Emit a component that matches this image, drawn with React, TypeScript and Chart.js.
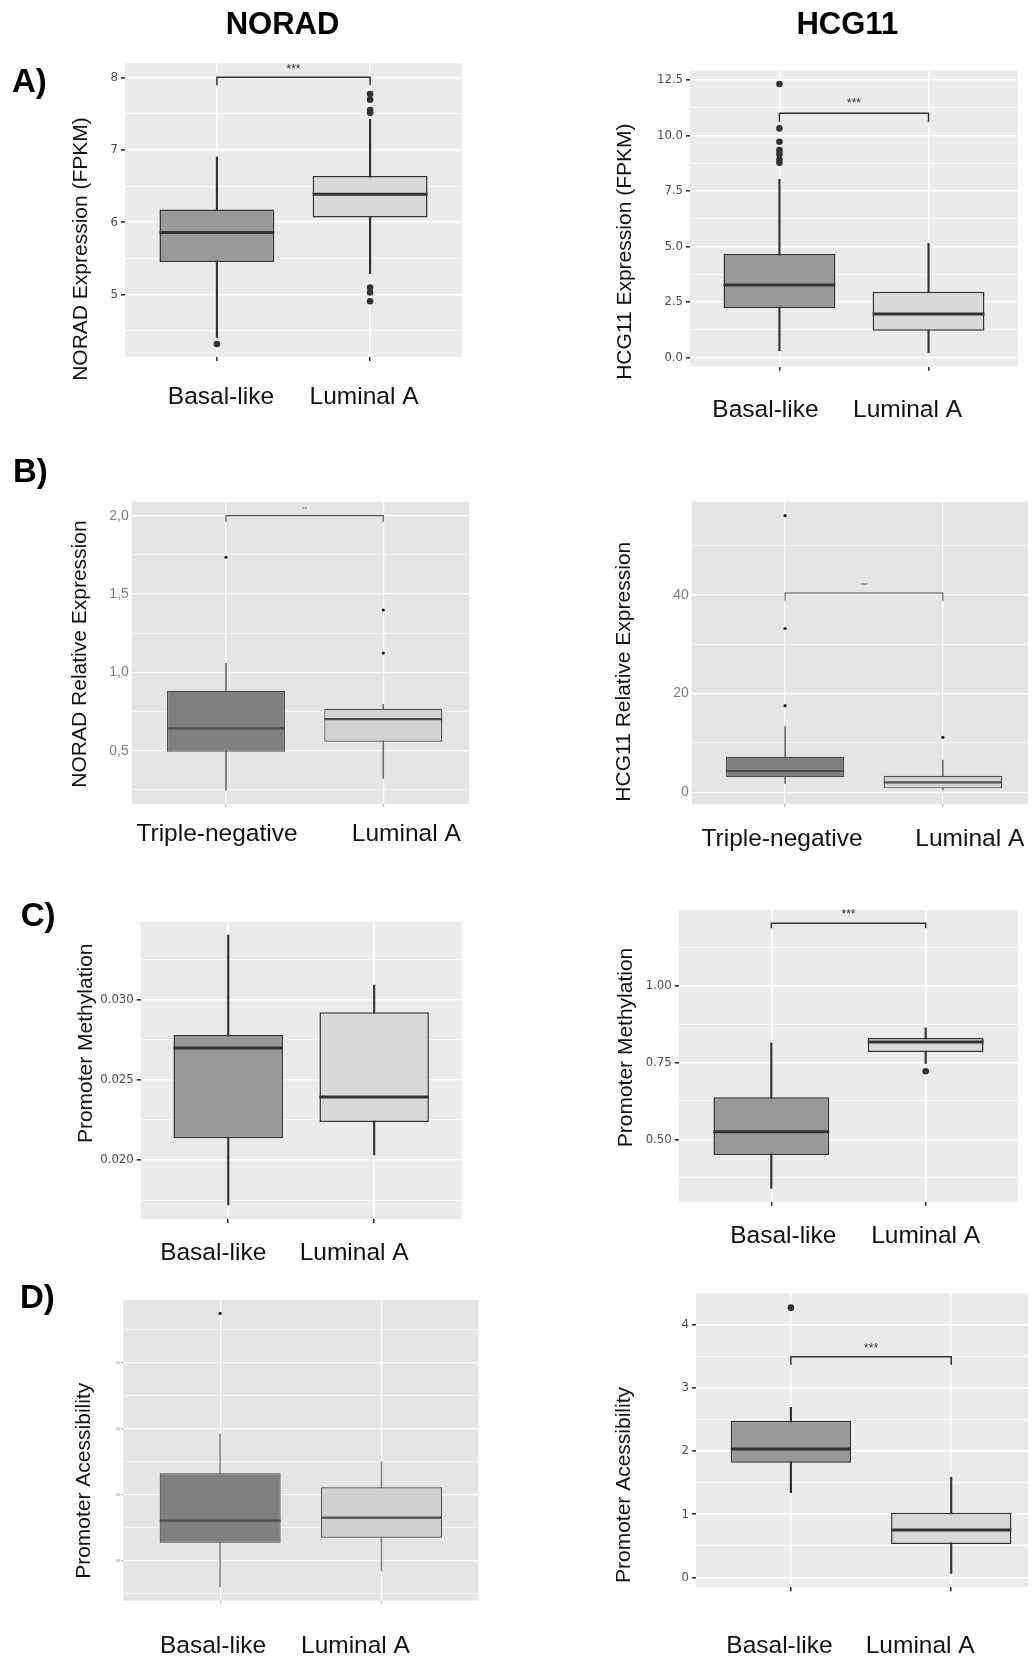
import { useEffect, useRef } from "react";
import { Chart, registerables } from "chart.js";
Chart.register(...registerables);

// ---------------- DATA ----------------
const basalLuminal = ["Basal-like", "Luminal A"];
const tripleLuminal = ["Triple-negative", "Luminal A"];

// five-number summaries: [lower whisker, Q1, median, Q3, upper whisker]
// A) NORAD expression (FPKM)
const noradFpkmBasal = [4.41, 5.45, 5.86, 6.175, 6.9];
const noradFpkmLuminal = [5.29, 6.065, 6.385, 6.64, 7.42];
const noradFpkmOutBasal = [4.32];
const noradFpkmOutLuminal = [7.77, 7.69, 7.55, 7.51, 5.1, 5.03, 4.91];
const noradFpkmTicks = [5, 6, 7, 8];
const noradFpkmTickLabels = ["5", "6", "7", "8"];
const noradFpkmMinor = [4.5, 5.5, 6.5, 7.5];

// A) HCG11 expression (FPKM)
const hcgFpkmBasal = [0.3, 2.22, 3.26, 4.66, 8.02];
const hcgFpkmLuminal = [0.21, 1.2, 1.95, 2.96, 5.14];
const hcgFpkmOutBasal = [12.32, 10.32, 9.72, 9.34, 9.16, 8.92, 8.77];
const hcgFpkmOutLuminal: number[] = [];
const hcgFpkmTicks = [0, 2.5, 5, 7.5, 10, 12.5];
const hcgFpkmTickLabels = ["0.0", "2.5", "5.0", "7.5", "10.0", "12.5"];
const hcgFpkmMinor = [1.25, 3.75, 6.25, 8.75, 11.25];

// B) NORAD relative expression
const noradRelTriple = [0.249, 0.494, 0.643, 0.883, 1.057];
const noradRelLuminal = [0.324, 0.557, 0.702, 0.768, 0.796];
const noradRelOutTriple = [1.734];
const noradRelOutLuminal = [1.398, 1.123];
const noradRelTicks = [0.5, 1, 1.5, 2];
const noradRelTickLabels = ["0,5", "1,0", "1,5", "2,0"];
const noradRelMinor = [0.25, 0.75, 1.25, 1.75];

// B) HCG11 relative expression
const hcgRelTriple = [1.82, 3.04, 4.32, 7.22, 13.3];
const hcgRelLuminal = [0.46, 0.8, 2.02, 3.37, 6.55];
const hcgRelOutTriple = [56.07, 33.2, 17.55];
const hcgRelOutLuminal = [11.15];
const hcgRelTicks = [0, 20, 40];
const hcgRelTickLabels = ["0", "20", "40"];
const hcgRelMinor = [10, 30, 50];

// C) NORAD promoter methylation
const noradMethBasal = [0.0172, 0.02135, 0.02697, 0.02778, 0.034];
const noradMethLuminal = [0.02031, 0.02236, 0.02392, 0.02919, 0.03089];
const noradMethOutBasal: number[] = [];
const noradMethOutLuminal: number[] = [];
const noradMethTicks = [0.02, 0.025, 0.03];
const noradMethTickLabels = ["0.020", "0.025", "0.030"];
const noradMethMinor = [0.0175, 0.0225, 0.0275, 0.0325];

// C) HCG11 promoter methylation
const hcgMethBasal = [0.3405, 0.449, 0.525, 0.6367, 0.814];
const hcgMethLuminal = [0.747, 0.7845, 0.817, 0.83, 0.8627];
const hcgMethOutBasal: number[] = [];
const hcgMethOutLuminal = [0.7217];
const hcgMethTicks = [0.5, 0.75, 1.0];
const hcgMethTickLabels = ["0.50", "0.75", "1.00"];
const hcgMethMinor = [0.375, 0.625, 0.875, 1.125];

// D) NORAD promoter accessibility
const noradAccBasal = [38.03, 41.36, 43.03, 46.62, 49.6];
const noradAccLuminal = [39.22, 41.74, 43.26, 45.56, 47.5];
const noradAccOutBasal = [58.74];
const noradAccOutLuminal: number[] = [];
const noradAccTicks = [40, 45, 50, 55];
const noradAccTickLabels = ["40", "45", "50", "55"];
const noradAccMinor = [37.5, 42.5, 47.5, 52.5, 57.5];

// D) HCG11 promoter accessibility
const hcgAccBasal = [1.34, 1.816, 2.033, 2.48, 2.694];
const hcgAccLuminal = [0.063, 0.528, 0.75, 1.024, 1.585];
const hcgAccOutBasal = [4.273];
const hcgAccOutLuminal: number[] = [];
const hcgAccTicks = [0, 1, 2, 3, 4];
const hcgAccTickLabels = ["0", "1", "2", "3", "4"];
const hcgAccMinor = [0.5, 1.5, 2.5, 3.5];

// significance brackets: [bracket top, bracket end]
const noradFpkmBracket = [8.0, 7.89];
const hcgFpkmBracket = [11.0, 10.62];
const noradRelBracket = [2.0, 1.96];
const hcgRelBracket = [40.4, 38.8];
const hcgMethBracket = [1.203, 1.187];
const hcgAccBracket = [3.496, 3.365];

// ---------------- STYLES ----------------
const SANS = '"Liberation Sans", Arial, Helvetica, sans-serif';
const NARROW = '"Liberation Sans Narrow", "DejaVu Sans Condensed", "Liberation Sans", sans-serif';

type Style = any;
const modern: Style = {
  bg: "#EBEBEB", grid: "#FFFFFF", majorW: 1.6, minorW: 0.9,
  fills: ["#999999", "#D9D9D9"], border: "#333333", borderW: 1.5, medianW: 3,
  whisker: "#333333", whiskerW: 1.5, outlierR: 3.3, outlierColor: "#333333",
  tickColor: "#333333", tickLen: 4, tickPad: 3,
  tickFont: { family: NARROW, size: 13 }, tickFontColor: "#4D4D4D",
  xTickColor: "#333333", xTickLen: 4,
  bracketColor: "#333333", bracketW: 1.5, starsSize: 12,
};
const classic: Style = {
  bg: "#E5E5E5", grid: "#FFFFFF", majorW: 1.2, minorW: 0.6,
  fills: ["#7F7F7F", "#D3D3D3"], border: "#4D4D4D", borderW: 1.2, medianW: 2.2,
  whisker: "#6E6E6E", whiskerW: 1, outlierR: 1.6, outlierColor: "#1A1A1A",
  tickColor: "rgba(0,0,0,0)", tickLen: 0, tickPad: 3,
  tickFont: { family: SANS, size: 14 }, tickFontColor: "#7F7F7F",
  xTickColor: "#B5B5B5", xTickLen: 3,
  bracketColor: "#555555", bracketW: 1.1, starsSize: 6,
};
const classicTiny: Style = {
  ...classic, fills: ["#808080", "#CFCFCF"], whisker: "#8C8C8C",
  tickFont: { family: SANS, size: 4 }, tickLen: 2, tickPad: 1, tickColor: "#999999",
};

// ---------------- PANELS ----------------
const LEFT = [0, 516];
const RIGHT = [516, 516];
const ROWS = { A: [0, 428], B: [428, 434], C: [862, 406], D: [1268, 394] };

const panels: any[] = [
  {
    id: "a1", cell: [LEFT[0], ROWS.A[0], LEFT[1], ROWS.A[1]], area: [125, 63, 462, 357],
    yRange: [4.14, 8.198], xRange: [0.4, 2.6], cats: basalLuminal,
    boxes: [noradFpkmBasal, noradFpkmLuminal], outliers: [noradFpkmOutBasal, noradFpkmOutLuminal],
    majors: noradFpkmTicks, majorLabels: noradFpkmTickLabels, minors: noradFpkmMinor,
    bracket: noradFpkmBracket, stars: "***", starsY: 8.159,
    yTitle: "NORAD Expression (FPKM)", yTitlePos: [81, 249], catY: 397, catOffsets: [4, -6],
    letter: ["A)", 12, 83], colTitle: ["NORAD", 282.5, 25], style: modern,
  },
  {
    id: "a2", cell: [RIGHT[0], ROWS.A[0], RIGHT[1], ROWS.A[1]], area: [690, 70.7, 1018, 366.7],
    yRange: [-0.42, 12.92], xRange: [0.4, 2.6], cats: basalLuminal,
    boxes: [hcgFpkmBasal, hcgFpkmLuminal], outliers: [hcgFpkmOutBasal, hcgFpkmOutLuminal],
    majors: hcgFpkmTicks, majorLabels: hcgFpkmTickLabels, minors: hcgFpkmMinor,
    bracket: hcgFpkmBracket, stars: "***", starsY: 11.6,
    yTitle: "HCG11 Expression (FPKM)", yTitlePos: [625.5, 251.7], catY: 410, catOffsets: [-14, -21],
    colTitle: ["HCG11", 847.3, 25], style: modern,
  },
  {
    id: "b1", cell: [LEFT[0], ROWS.B[0], LEFT[1], ROWS.B[1]], area: [131.7, 501.7, 469.3, 804],
    yRange: [0.16, 2.089], xRange: [0.4005, 2.547], cats: tripleLuminal,
    boxes: [noradRelTriple, noradRelLuminal], outliers: [noradRelOutTriple, noradRelOutLuminal],
    majors: noradRelTicks, majorLabels: noradRelTickLabels, minors: noradRelMinor,
    bracket: noradRelBracket, stars: "**", starsY: 2.05,
    yTitle: "NORAD Relative Expression", yTitlePos: [80.5, 654], catY: 834, catOffsets: [-9, 23],
    letter: ["B)", 13, 473.3], style: classic,
  },
  {
    id: "b2", cell: [RIGHT[0], ROWS.B[0], RIGHT[1], ROWS.B[1]], area: [691.7, 501.7, 1028.7, 804.3],
    yRange: [-2.43, 58.9], xRange: [0.408, 2.54], cats: tripleLuminal,
    boxes: [hcgRelTriple, hcgRelLuminal], outliers: [hcgRelOutTriple, hcgRelOutLuminal],
    majors: hcgRelTicks, majorLabels: hcgRelTickLabels, minors: hcgRelMinor,
    bracket: hcgRelBracket, stars: "***", starsY: 42.4,
    yTitle: "HCG11 Relative Expression", yTitlePos: [624.5, 671.7], catY: 839, catOffsets: [-3, 27],
    style: classic,
  },
  {
    id: "c1", cell: [LEFT[0], ROWS.C[0], LEFT[1], ROWS.C[1]], area: [140.7, 921.7, 461.7, 1219],
    yRange: [0.01633, 0.03483], xRange: [0.4, 2.6], cats: basalLuminal,
    boxes: [noradMethBasal, noradMethLuminal], outliers: [noradMethOutBasal, noradMethOutLuminal],
    majors: noradMethTicks, majorLabels: noradMethTickLabels, minors: noradMethMinor,
    yTitle: "Promoter Methylation", yTitlePos: [86, 1043.3], catY: 1253, catOffsets: [-15, -20],
    letter: ["C)", 20.7, 916.7], style: modern,
  },
  {
    id: "c2", cell: [RIGHT[0], ROWS.C[0], RIGHT[1], ROWS.C[1]], area: [678.7, 910, 1018.3, 1201.7],
    yRange: [0.297, 1.2464], xRange: [0.4, 2.6], cats: basalLuminal,
    boxes: [hcgMethBasal, hcgMethLuminal], outliers: [hcgMethOutBasal, hcgMethOutLuminal],
    majors: hcgMethTicks, majorLabels: hcgMethTickLabels, minors: hcgMethMinor,
    bracket: hcgMethBracket, stars: "***", starsY: 1.241,
    yTitle: "Promoter Methylation", yTitlePos: [626.3, 1047.5], catY: 1236, catOffsets: [12, 0],
    style: modern,
  },
  {
    id: "d1", cell: [LEFT[0], ROWS.D[0], LEFT[1], ROWS.D[1]], area: [123.3, 1300, 478.3, 1600.7],
    yRange: [36.97, 59.75], xRange: [0.4, 2.6], cats: basalLuminal,
    boxes: [noradAccBasal, noradAccLuminal], outliers: [noradAccOutBasal, noradAccOutLuminal],
    majors: noradAccTicks, majorLabels: noradAccTickLabels, minors: noradAccMinor,
    yTitle: "Promoter Acessibility", yTitlePos: [84, 1480.8], catY: 1646.7, catOffsets: [-7, -26],
    letter: ["D)", 20, 1299], style: classicTiny,
  },
  {
    id: "d2", cell: [RIGHT[0], ROWS.D[0], RIGHT[1], ROWS.D[1]], area: [696, 1293.3, 1032, 1587.3],
    yRange: [-0.158, 4.5], xRange: [0.408, 2.479], cats: basalLuminal,
    boxes: [hcgAccBasal, hcgAccLuminal], outliers: [hcgAccOutBasal, hcgAccOutLuminal],
    majors: hcgAccTicks, majorLabels: hcgAccTickLabels, minors: hcgAccMinor,
    bracket: hcgAccBracket, stars: "***", starsY: 3.68,
    yTitle: "Promoter Acessibility", yTitlePos: [624.5, 1485], catY: 1646.7, catOffsets: [-11.5, -31],
    style: modern,
  },
];

const BOX_WIDTH = 0.75;
const Y_W = 40;
const X_H = 10;

function buildConfig(p: any) {
  const s = p.style;
  const [cx, cy, cw, ch] = p.cell;
  const [al, at, ar, ab] = p.area;
  const padding = {
    left: al - cx - Y_W,
    top: at - cy,
    right: cx + cw - ar,
    bottom: cy + ch - ab - X_H,
  };
  const yTicks = [
    ...p.majors.map((v: number, i: number) => ({ value: v, label: p.majorLabels[i], major: true })),
    ...p.minors.map((v: number) => ({ value: v, label: "", major: false })),
  ]
    .filter((t) => t.value >= p.yRange[0] && t.value <= p.yRange[1])
    .sort((a, b) => a.value - b.value);
  const xs = p.cats.map((_: string, i: number) => i + 1);

  const datasets: any[] = [
    {
      type: "bar", label: "whiskers",
      data: xs.map((x: number, i: number) => ({ x, y: [p.boxes[i][0], p.boxes[i][4]] })),
      backgroundColor: s.whisker, borderWidth: 0, barThickness: s.whiskerW, grouped: false, order: 5,
    },
    {
      type: "bar", label: "boxes",
      data: xs.map((x: number, i: number) => ({ x, y: [p.boxes[i][1], p.boxes[i][3]] })),
      backgroundColor: s.fills, borderColor: s.border, borderWidth: s.borderW, borderSkipped: false,
      barPercentage: BOX_WIDTH, categoryPercentage: 1, grouped: false, order: 4,
    },
    {
      type: "scatter", label: "medians",
      data: xs.map((x: number, i: number) => ({ x, y: p.boxes[i][2] })),
      pointStyle: "line",
      pointRadius: (ctx: any) => {
        const sc = ctx.chart.scales.x;
        return Math.abs(sc.getPixelForValue(1 + BOX_WIDTH / 2) - sc.getPixelForValue(1));
      },
      pointBorderColor: s.border, pointBorderWidth: s.medianW, order: 3,
    },
    {
      type: "scatter", label: "outliers",
      data: p.outliers.flatMap((arr: number[], i: number) => arr.map((v) => ({ x: i + 1, y: v }))),
      pointRadius: s.outlierR, pointBackgroundColor: s.outlierColor, pointBorderColor: s.outlierColor,
      pointBorderWidth: 0, order: 2,
    },
  ];
  if (p.bracket) {
    datasets.push({
      type: "line", label: "bracket",
      data: [
        { x: 1, y: p.bracket[1] }, { x: 1, y: p.bracket[0] },
        { x: 2, y: p.bracket[0] }, { x: 2, y: p.bracket[1] },
      ],
      borderColor: s.bracketColor, borderWidth: s.bracketW, pointRadius: 0, fill: false, tension: 0,
      borderJoinStyle: "miter", order: 1,
    });
  }

  const deco = {
    id: "deco",
    beforeDraw(chart: any) {
      const { ctx, chartArea: a } = chart;
      ctx.save();
      ctx.fillStyle = s.bg;
      ctx.fillRect(a.left, a.top, a.right - a.left, a.bottom - a.top);
      ctx.restore();
    },
    afterDraw(chart: any) {
      const ctx = chart.ctx;
      const xsc = chart.scales.x;
      const ysc = chart.scales.y;
      ctx.save();
      if (p.stars) {
        ctx.font = `${s.starsSize}px ${SANS}`;
        ctx.fillStyle = s.bracketColor;
        ctx.textAlign = "center";
        ctx.textBaseline = "alphabetic";
        ctx.fillText(p.stars, xsc.getPixelForValue(1.5), ysc.getPixelForValue(p.starsY) + 0.57 * s.starsSize);
      }
      ctx.font = `24.5px ${SANS}`;
      ctx.fillStyle = "#111111";
      ctx.textAlign = "center";
      ctx.textBaseline = "middle";
      p.cats.forEach((c: string, i: number) => {
        ctx.fillText(c, xsc.getPixelForValue(i + 1) + p.catOffsets[i], p.catY - cy);
      });
      if (p.letter) {
        ctx.font = `bold 33px ${SANS}`;
        ctx.fillStyle = "#000000";
        ctx.textAlign = "left";
        ctx.fillText(p.letter[0], p.letter[1] - cx, p.letter[2] - cy);
      }
      if (p.colTitle) {
        ctx.font = `bold 31px ${SANS}`;
        ctx.fillStyle = "#000000";
        ctx.textAlign = "center";
        ctx.fillText(p.colTitle[0], p.colTitle[1] - cx, p.colTitle[2] - cy);
      }
      ctx.translate(p.yTitlePos[0] - cx, p.yTitlePos[1] - cy);
      ctx.rotate(-Math.PI / 2);
      ctx.font = `21px ${SANS}`;
      ctx.fillStyle = "#111111";
      ctx.textAlign = "center";
      ctx.textBaseline = "middle";
      ctx.fillText(p.yTitle, 0, 0);
      ctx.restore();
    },
  };

  return {
    type: "bar",
    data: { datasets },
    options: {
      animation: false,
      responsive: false,
      devicePixelRatio: 1,
      events: [],
      layout: { padding },
      plugins: { legend: { display: false }, tooltip: { enabled: false } },
      scales: {
        x: {
          type: "linear", min: p.xRange[0], max: p.xRange[1], offset: false,
          afterBuildTicks: (sc: any) => { sc.ticks = xs.map((v: number) => ({ value: v })); },
          ticks: { display: false },
          grid: {
            offset: false, color: s.grid, lineWidth: s.majorW,
            tickColor: s.xTickColor, tickLength: s.xTickLen, drawTicks: true,
          },
          border: { display: false },
          afterFit: (sc: any) => { sc.height = X_H; },
        },
        y: {
          type: "linear", min: p.yRange[0], max: p.yRange[1],
          afterBuildTicks: (sc: any) => { sc.ticks = yTicks.map((t) => ({ value: t.value })); },
          ticks: {
            autoSkip: false,
            callback: (_v: any, i: number) => (yTicks[i] ? yTicks[i].label : ""),
            color: s.tickFontColor, font: s.tickFont, padding: s.tickPad,
          },
          grid: {
            offset: false,
            color: s.grid,
            lineWidth: (ctx: any) => (yTicks[ctx.index] && yTicks[ctx.index].major ? s.majorW : s.minorW),
            tickColor: (ctx: any) => (yTicks[ctx.index] && yTicks[ctx.index].major ? s.tickColor : "rgba(0,0,0,0)"),
            tickLength: s.tickLen,
            drawTicks: true,
          },
          border: { display: false },
          afterFit: (sc: any) => { sc.width = Y_W; },
        },
      },
    },
    plugins: [deco],
  };
}

function Panel({ p }: { p: any }) {
  const ref = useRef<HTMLCanvasElement>(null);
  useEffect(() => {
    const chart = new Chart(ref.current as HTMLCanvasElement, buildConfig(p) as any);
    return () => chart.destroy();
  }, [p]);
  const [x, y, w, h] = p.cell;
  return (
    <canvas
      ref={ref}
      width={w}
      height={h}
      style={{ position: "absolute", left: x, top: y, width: w, height: h }}
    />
  );
}

export default function App() {
  return (
    <div style={{ position: "absolute", left: 0, top: 0, width: 1032, height: 1662, background: "#ffffff", overflow: "hidden" }}>
      {panels.map((p) => (
        <Panel key={p.id} p={p} />
      ))}
    </div>
  );
}
